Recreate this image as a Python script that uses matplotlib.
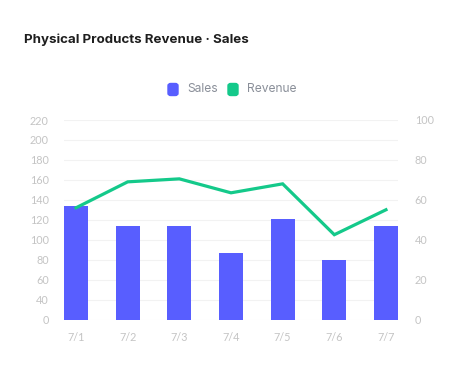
import numpy as np
import matplotlib.pyplot as plt
from matplotlib.patches import FancyBboxPatch

days = ['7/1', '7/2', '7/3', '7/4', '7/5', '7/6', '7/7']
sales = [125, 103, 103, 73, 111, 66, 103]
revenue = [56, 69, 70.5, 63.5, 68, 42.5, 55]
left_ticks = [0, 22, 44, 66, 88, 110, 132, 154, 176, 198, 220]
left_labels = ['0', '40', '60', '80', '100', '120', '140', '160', '180', '200', '220']
right_ticks = [0, 20, 40, 60, 80, 100]

bar_color = '#585EFF'
line_color = '#14C98A'
tick_color = '#C4C4C4'

fig = plt.figure(figsize=(4.63, 3.66), dpi=100)
ax = fig.add_axes([64 / 463, 1 - 319.5 / 366, 334 / 463, 199.5 / 366])
ax2 = ax.twinx()

x = np.arange(len(days))
ax.bar(x, sales, width=0.466, color=bar_color, zorder=2)
ax.set_xlim(-0.233, len(days) - 1 + 0.233)
ax.set_ylim(0, 220)
ax.set_yticks(left_ticks)
ax.set_yticklabels(left_labels)
ax.set_xticks(x)
ax.set_xticklabels(days)
ax.grid(axis='y', color='#F2F2F2', linewidth=0.8, zorder=0)

ax2.plot(x, revenue, color=line_color, linewidth=2.3, solid_joinstyle='miter', zorder=3)
ax2.set_ylim(0, 100)
ax2.set_yticks(right_ticks)

for a in (ax, ax2):
    for s in a.spines.values():
        s.set_visible(False)
    a.tick_params(length=0, colors=tick_color, labelsize=7.8)
    for lab in a.get_xticklabels() + a.get_yticklabels():
        lab.set_family('Lato')
ax.tick_params(axis='y', pad=11)
ax.tick_params(axis='x', pad=9)
ax2.tick_params(axis='y', pad=12)

fig.text(24 / 463, 1 - 40 / 366, 'Physical Products Revenue · Sales', fontsize=9.6,
         fontweight='bold', family='Inter', color='#1E1E1E', va='center', ha='left')

# legend
for x0, label, c in [(168, 'Sales', bar_color), (228, 'Revenue', line_color)]:
    box = FancyBboxPatch((x0 / 463, 1 - 95.5 / 366), 10 / 463, 12 / 366,
                         boxstyle='round,pad=0,rounding_size=0.006',
                         transform=fig.transFigure, color=c)
    fig.patches.append(box)
    fig.text((x0 + 19) / 463, 1 - 89.5 / 366, label, fontsize=8.7, family='Inter',
             color='#8A8F99', va='center', ha='left')

fig.savefig('out.png', dpi=100)
